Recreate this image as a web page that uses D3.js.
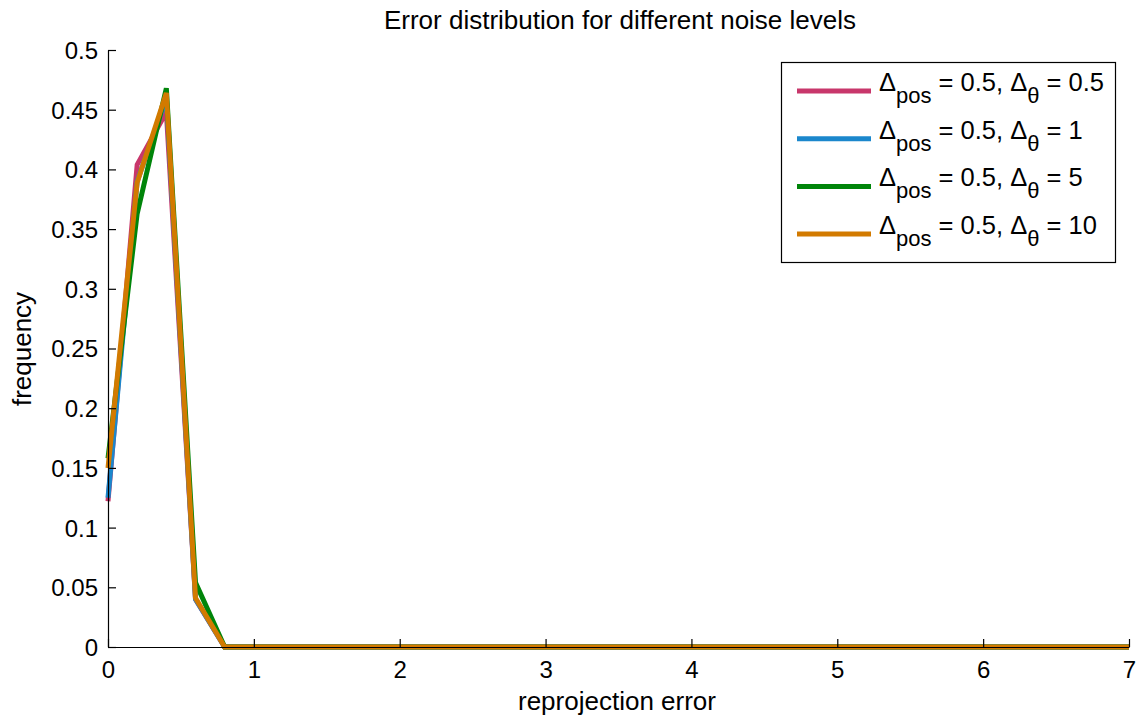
<!DOCTYPE html>
<html><head><meta charset="utf-8">
<script src="https://cdn.jsdelivr.net/npm/d3@7"></script>
<style>body{margin:0;background:#fff;} text{font-family:"Liberation Sans",Arial,sans-serif;fill:#000;}</style>
</head><body>
<svg id="c" width="1140" height="719"></svg>
<script>
const xBins = d3.range(0, 36).map(i => +(i * 0.2).toFixed(1));
const pad = n => Array(36 - n.length).fill(0);
const red    = [0.122, 0.404, 0.448, 0.040, 0];
const blue   = [0.125, 0.390, 0.460, 0.040, 0];
const green  = [0.158, 0.363, 0.468, 0.054, 0];
const orange = [0.150, 0.389, 0.464, 0.041, 0];
const seriesNames = ["0.5", "1", "5", "10"];
const seriesColors = ["#c8376b", "#1b87cc", "#00850a", "#d27a00"];
const seriesValues = [red, blue, green, orange].map(a => a.concat(pad(a)));
const xTicks = [0,1,2,3,4,5,6,7];
const yTicks = [0,0.05,0.1,0.15,0.2,0.25,0.3,0.35,0.4,0.45,0.5];

const svg = d3.select("#c");
const L = 108, R = 1129, T = 50, B = 647;
const x = d3.scaleLinear().domain([0,7]).range([L,R]);
const y = d3.scaleLinear().domain([0,0.5]).range([B,T]);

const line = d3.line().x((d,i)=>x(xBins[i])).y(d=>y(d));
seriesValues.forEach((vals,k)=>{
  svg.append("path").attr("d", line(vals)).attr("fill","none")
    .attr("stroke", seriesColors[k]).attr("stroke-width",5).attr("stroke-linejoin","miter");
});

// axes
const xa = svg.append("g").attr("transform",`translate(0,${B})`)
  .call(d3.axisBottom(x).tickValues(xTicks).tickFormat(d3.format("d")).tickSizeInner(-8).tickSizeOuter(0));
const ya = svg.append("g").attr("transform",`translate(${L},0)`)
  .call(d3.axisLeft(y).tickValues(yTicks).tickFormat(d=>String(d)).tickSizeInner(-8).tickSizeOuter(0));
[xa,ya].forEach(g=>{
  g.attr("font-size",null).attr("font-family",null);
  g.selectAll("text").style("font-size","24px").attr("fill","#000");
  g.selectAll("line").attr("stroke","#000").attr("stroke-width",1.2);
  g.select(".domain").attr("stroke","#000").attr("stroke-width",1.2);
});
xa.selectAll(".tick text").attr("y",14).attr("dy","0.71em");
ya.selectAll(".tick text").attr("x",-10).attr("dy","0.35em");

svg.append("text").attr("x",620).attr("y",29).attr("text-anchor","middle").style("font-size","26px")
  .text("Error distribution for different noise levels");
svg.append("text").attr("x",617).attr("y",710).attr("text-anchor","middle").style("font-size","26px")
  .text("reprojection error");
svg.append("text").attr("transform","translate(31,349) rotate(-90)").attr("text-anchor","middle").style("font-size","26px")
  .text("frequency");

// legend
const lg = svg.append("g");
lg.append("rect").attr("x",781.5).attr("y",62.5).attr("width",334).attr("height",200)
  .attr("fill","#fff").attr("stroke","#000").attr("stroke-width",1.2);
seriesNames.forEach((n,k)=>{
  const yy = 91 + k*47.7;
  lg.append("line").attr("x1",797).attr("x2",871).attr("y1",yy).attr("y2",yy)
    .attr("stroke",seriesColors[k]).attr("stroke-width",5);
  const t = lg.append("text").attr("x",879).attr("y",yy).style("font-size","25.5px");
  t.append("tspan").text("Δ");
  t.append("tspan").attr("dy",12).style("font-size","22px").text("pos");
  t.append("tspan").attr("dy",-12).text(" = 0.5, Δ");
  t.append("tspan").attr("dy",12).style("font-size","22px").text("θ");
  t.append("tspan").attr("dy",-12).text(" = " + n);
});
</script>
</body></html>
